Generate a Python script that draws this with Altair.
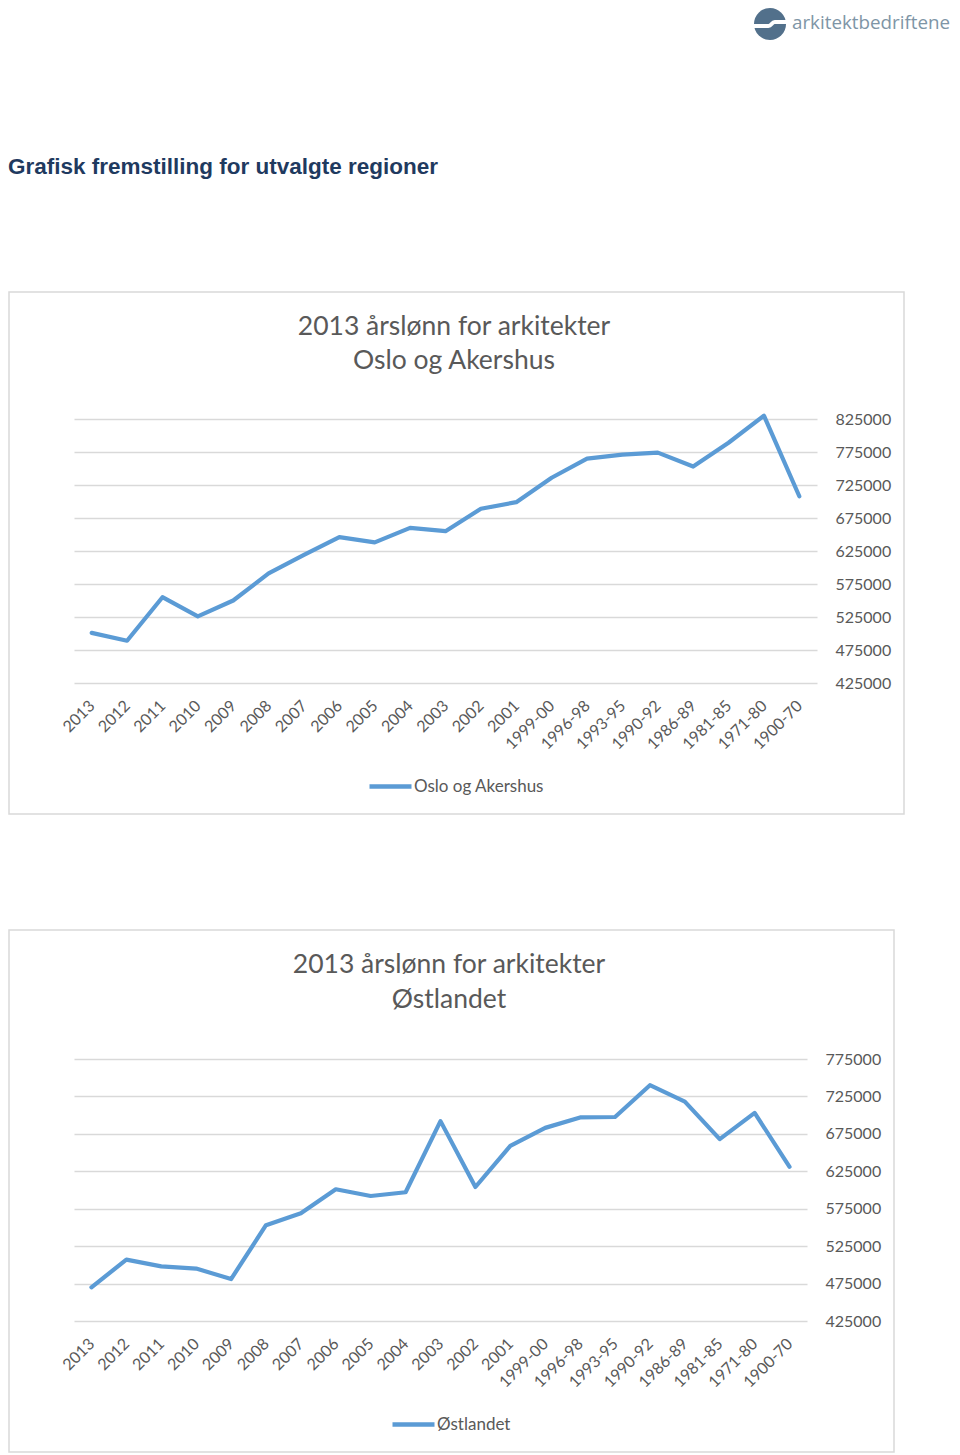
import altair as alt
import pandas as pd

# ---- data ----
categories = ["2013", "2012", "2011", "2010", "2009", "2008", "2007", "2006", "2005",
              "2004", "2003", "2002", "2001", "1999-00", "1996-98", "1993-95",
              "1990-92", "1986-89", "1981-85", "1971-80", "1900-70"]
oslo_values = [501000, 489000, 555000, 526000, 550000, 591000, 619000, 646000, 638000,
               660000, 655000, 689000, 699000, 736000, 765000, 771000, 774000, 753000,
               789000, 830000, 708000]
ostlandet_values = [470000, 507000, 498000, 495000, 481000, 553000, 569000, 601000, 592000,
                    597000, 692000, 604000, 659000, 683000, 697000, 697500, 740000, 718000,
                    668000, 703000, 631000]
oslo_ticks = [425000, 475000, 525000, 575000, 625000, 675000, 725000, 775000, 825000]
ostlandet_ticks = [425000, 475000, 525000, 575000, 625000, 675000, 725000, 775000]

heading = "Grafisk fremstilling for utvalgte regioner"
logo_text = "arkitektbedriftene"
title_line1 = "2013 årslønn for arkitekter"
series1 = "Oslo og Akershus"
series2 = "Østlandet"

BLUE = "#5B9BD5"
GREY_TXT = "#595959"
GRID = "#D9D9D9"
FONT = "Lato"

one = alt.Data(values=[{"k": 1}])


def text_layer(txt, x, y, size, color=GREY_TXT, font=FONT, weight="normal", align="center"):
    return alt.Chart(one).mark_text(
        font=font, fontSize=size, color=color, fontWeight=weight,
        align=align, baseline="alphabetic"
    ).encode(x=alt.value(x), y=alt.value(y), text=alt.value(txt))


def panel(values, series, ticks, width, height, box, title_pos, legend_pos):
    df = pd.DataFrame({"kategori": categories, "verdi": values, "serie": series})
    frame = alt.Chart(one).mark_rect(
        filled=False, stroke=GRID, strokeWidth=1.5
    ).encode(x=alt.value(box[0]), x2=alt.value(box[1]),
             y=alt.value(box[2]), y2=alt.value(box[3]))
    t1 = text_layer(title_line1, title_pos[0], title_pos[1], 26.5)
    t2 = text_layer(series, title_pos[0], title_pos[2], 26.5)
    line = alt.Chart(df).mark_line(
        strokeWidth=4.2, strokeCap="round", strokeJoin="round"
    ).encode(
        x=alt.X("kategori:N", sort=categories, title=None,
                axis=alt.Axis(labelAngle=-45, labelAlign="right", labelBaseline="middle",
                              labelPadding=20, labelOverlap=False, grid=False,
                              domain=False, ticks=False, labelFont=FONT,
                              labelFontSize=16, labelColor=GREY_TXT)),
        y=alt.Y("verdi:Q", title=None,
                scale=alt.Scale(domain=[ticks[0], ticks[-1]], nice=False, zero=False),
                axis=alt.Axis(orient="right", values=ticks, format="d", grid=True,
                              gridColor=GRID, gridWidth=1.3, domain=False, ticks=False,
                              labelPadding=18, labelFont=FONT, labelFontSize=16,
                              labelColor=GREY_TXT)),
        color=alt.Color("serie:N", scale=alt.Scale(range=[BLUE]),
                        legend=alt.Legend(orient="none", legendX=legend_pos[0],
                                          legendY=legend_pos[1], title=None,
                                          symbolType="stroke", symbolSize=1764,
                                          symbolStrokeWidth=4.5, labelFont=FONT,
                                          labelFontSize=17, labelColor=GREY_TXT,
                                          labelOffset=0)),
    )
    return alt.layer(frame, t1, t2, line).properties(width=width, height=height)


# header with logo and heading
logo_circle = alt.Chart(one).mark_point(
    filled=True, shape="circle", size=1024, color="#52708B", opacity=1
).encode(x=alt.value(696), y=alt.value(16))
logo_swoosh = alt.Chart(one).mark_point(
    filled=False, shape="M -1 0.12 L -0.1 0.12 C 0.1 0.12 0.1 -0.12 0.3 -0.12 L 1 -0.12",
    size=1024, color="white", strokeWidth=4, opacity=1
).encode(x=alt.value(696), y=alt.value(16))
logo_label = alt.Chart(one).mark_text(
    font="Open Sans", fontSize=18.8, color="#7E95A6", align="left", baseline="middle"
).encode(x=alt.value(718), y=alt.value(15), text=alt.value(logo_text))
heading_text = text_layer(heading, -66, 166, 22.5, color="#1F3A5F",
                          font="Liberation Sans", weight="bold", align="left")

header = alt.layer(heading_text, logo_circle, logo_swoosh, logo_label).properties(
    width=743, height=35)

chart1 = panel(oslo_values, series1, oslo_ticks, 743, 264,
               box=(-65, 830, -127, 395), title_pos=(380, -84, -50),
               legend_pos=(293, 344))
chart2 = panel(ostlandet_values, series2, ostlandet_ticks, 733, 262,
               box=(-65, 820, -129, 393), title_pos=(375, -86, -51),
               legend_pos=(316, 342))

chart = alt.vconcat(header, chart1, chart2, spacing=376, bounds="flush", padding=0
                    ).resolve_scale(color="independent", x="independent", y="independent"
                    ).resolve_legend(color="independent"
                    ).configure_view(stroke=None)

chart.save("out.html", embed_options={"renderer": "svg", "actions": False})
